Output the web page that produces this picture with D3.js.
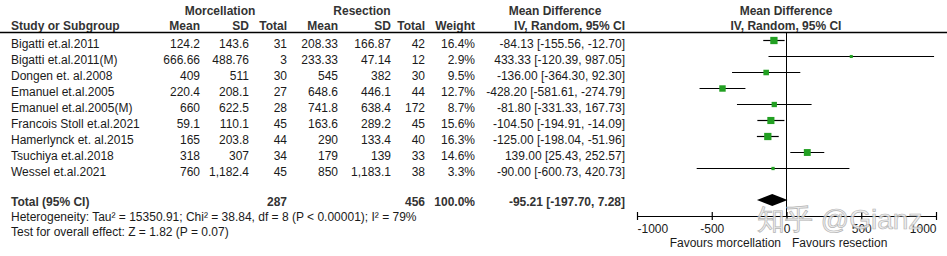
<!DOCTYPE html>
<html>
<head>
<meta charset="utf-8">
<script src="https://cdn.jsdelivr.net/npm/d3@7/dist/d3.min.js"></script>
<style>
  body { margin: 0; background: #fff; }
  text { font-family: Arial, "Liberation Sans", sans-serif; }
</style>
</head>
<body>
<svg id="chart"></svg>
<script>
const studies = ['Bigatti et.al.2011', 'Bigatti et.al.2011(M)', 'Dongen et. al.2008', 'Emanuel et.al.2005',
  'Emanuel et.al.2005(M)', 'Francois Stoll et.al.2021', 'Hamerlynck et. al.2015', 'Tsuchiya et.al.2018', 'Wessel et.al.2021'];
const morc_mean = [124.2, 666.66, 409, 220.4, 660, 59.1, 165, 318, 760];
const morc_sd = [143.6, 488.76, 511, 208.1, 622.5, 110.1, 203.8, 307, 1182.4];
const morc_n = [31, 3, 30, 27, 28, 45, 44, 34, 45];
const res_mean = [208.33, 233.33, 545, 648.6, 741.8, 163.6, 290, 179, 850];
const res_sd = [166.87, 47.14, 382, 446.1, 638.4, 289.2, 133.4, 139, 1183.1];
const res_n = [42, 12, 30, 44, 172, 45, 40, 33, 38];
const weights = [16.4, 2.9, 9.5, 12.7, 8.7, 15.6, 16.3, 14.6, 3.3];
const md = [-84.13, 433.33, -136.00, -428.20, -81.80, -104.50, -125.00, 139.00, -90.00];
const ci_low = [-155.56, -120.39, -364.30, -581.61, -331.33, -194.91, -198.04, 25.43, -600.73];
const ci_high = [-12.70, 987.05, 92.30, -274.79, 167.73, -14.09, -51.96, 252.57, 420.73];
const total = {md: -95.21, low: -197.70, high: 7.28, morc_n: 287, res_n: 456, weight: '100.0%'};
const axis_ticks = [-1000, -500, 0, 500, 1000];

let width = 947, height = 256;
let svg = d3.select('#chart').attr('width', width).attr('height', height);

let fmt = d3.format(',');
let row_y = function (i) { return 47.5 + i * 16; };
let text_col = '#1a1a1a';
let head_col = '#333';

var x = d3.scaleLinear().domain([-1000, 1000]).range([637, 936]);

// column right edges
let c_mm = 200, c_ms = 249, c_mn = 287, c_rm = 338, c_rs = 391, c_rn = 425, c_w = 475, c_ci = 625;

function header(txt, xpos, y, anchor) {
    svg.append('text').attr('x', xpos).attr('y', y).attr('text-anchor', anchor)
        .attr('font-size', 12).attr('font-weight', 'bold').attr('fill', head_col).text(txt);
}
header('Morcellation', 220, 14.5, 'middle');
header('Resection', 362, 14.5, 'middle');
header('Mean Difference', 555, 14.5, 'middle');
header('Mean Difference', 786, 14.5, 'middle');
header('Study or Subgroup', 11, 29.5, 'start');
header('Mean', c_mm, 29.5, 'end');
header('SD', c_ms, 29.5, 'end');
header('Total', c_mn, 29.5, 'end');
header('Mean', c_rm, 29.5, 'end');
header('SD', c_rs, 29.5, 'end');
header('Total', c_rn, 29.5, 'end');
header('Weight', c_w, 29.5, 'end');
header('IV, Random, 95% CI', c_ci, 29.5, 'end');
header('IV, Random, 95% CI', 786, 29.5, 'middle');

svg.append('line').attr('x1', 0).attr('x2', width).attr('y1', 32.5).attr('y2', 32.5)
    .attr('stroke', '#000').attr('stroke-width', 1.5);

// study rows
let cols = [
    {vals: studies, x: 11, anchor: 'start'},
    {vals: morc_mean.map(fmt), x: c_mm, anchor: 'end'},
    {vals: morc_sd.map(fmt), x: c_ms, anchor: 'end'},
    {vals: morc_n.map(String), x: c_mn, anchor: 'end'},
    {vals: res_mean.map(fmt), x: c_rm, anchor: 'end'},
    {vals: res_sd.map(fmt), x: c_rs, anchor: 'end'},
    {vals: res_n.map(String), x: c_rn, anchor: 'end'},
    {vals: weights.map(function (w) { return w.toFixed(1) + '%'; }), x: c_w, anchor: 'end'},
    {vals: md.map(function (m, i) {
        return m.toFixed(2) + ' [' + ci_low[i].toFixed(2) + ', ' + ci_high[i].toFixed(2) + ']';
    }), x: c_ci, anchor: 'end'}
];
cols.forEach(function (c) {
    svg.append('g').selectAll('text').data(c.vals).enter().append('text')
        .attr('x', c.x).attr('y', function (d, i) { return row_y(i); })
        .attr('text-anchor', c.anchor).attr('font-size', 12).attr('fill', text_col)
        .text(function (d) { return d; });
});

// total row
let ty = 206;
header('Total (95% CI)', 11, ty, 'start');
header(total.morc_n, c_mn, ty, 'end');
header(total.res_n, c_rn, ty, 'end');
header(total.weight, c_w, ty, 'end');
header(total.md.toFixed(2) + ' [' + total.low.toFixed(2) + ', ' + total.high.toFixed(2) + ']', c_ci, ty, 'end');

svg.append('text').attr('x', 11).attr('y', 221).attr('font-size', 12).attr('fill', text_col)
    .text('Heterogeneity: Tau\u00b2 = 15350.91; Chi\u00b2 = 38.84, df = 8 (P < 0.00001); I\u00b2 = 79%');
svg.append('text').attr('x', 11).attr('y', 236).attr('font-size', 12).attr('fill', text_col)
    .text('Test for overall effect: Z = 1.82 (P = 0.07)');

// forest plot
let axis_y = 216;
svg.append('line').attr('x1', x(0)).attr('x2', x(0)).attr('y1', 32.5).attr('y2', axis_y)
    .attr('stroke', '#000').attr('stroke-width', 1);

let plot = svg.append('g');
plot.selectAll('line.ci').data(md).enter().append('line')
    .attr('x1', function (d, i) { return x(ci_low[i]); })
    .attr('x2', function (d, i) { return x(ci_high[i]); })
    .attr('y1', function (d, i) { return row_y(i) - 7; })
    .attr('y2', function (d, i) { return row_y(i) - 7; })
    .attr('stroke', '#000').attr('stroke-width', 1.2);
let sq = function (i) { return 1.8 * Math.sqrt(weights[i]); };
plot.selectAll('rect').data(md).enter().append('rect')
    .attr('width', function (d, i) { return sq(i); })
    .attr('height', function (d, i) { return sq(i); })
    .attr('x', function (d, i) { return x(d) - sq(i) / 2; })
    .attr('y', function (d, i) { return row_y(i) - 7 - sq(i) / 2; })
    .attr('fill', '#22a022');

let dy = 200;
svg.append('path')
    .attr('d', 'M' + x(total.low) + ',' + dy + 'L' + x(total.md) + ',' + (dy - 6) +
        'L' + x(total.high) + ',' + dy + 'L' + x(total.md) + ',' + (dy + 6) + 'Z')
    .attr('fill', '#000');

let ax = svg.append('g').attr('transform', 'translate(0,' + axis_y + ')')
    .call(d3.axisBottom(x).tickValues(axis_ticks).tickSizeOuter(0).tickPadding(9)
        .tickFormat(function (d) { return String(d); }));
ax.select('.domain').attr('stroke-width', 1.2);
ax.selectAll('.tick line').attr('y1', -4).attr('y2', 4).attr('stroke-width', 1.2);
ax.selectAll('.tick text').attr('font-size', 12).attr('font-family', 'Arial, "Liberation Sans", sans-serif')
    .attr('fill', text_col).attr('y', 8).attr('dy', '0.71em')
    .attr('text-anchor', function (d, i) {
        if (i === 0) return 'start';
        if (i === axis_ticks.length - 1) return 'end';
        return 'middle';
    });

svg.append('text').attr('x', 781).attr('y', 247).attr('text-anchor', 'end')
    .attr('font-size', 12).attr('fill', text_col).text('Favours morcellation');
svg.append('text').attr('x', 792).attr('y', 247).attr('text-anchor', 'start')
    .attr('font-size', 12).attr('fill', text_col).text('Favours resection');

// watermark
svg.append('text').attr('x', 757).attr('y', 229)
    .attr('font-family', '"Noto Sans CJK SC", sans-serif').attr('font-size', 28)
    .attr('fill', '#ececec').attr('stroke', '#a8a8a8').attr('stroke-width', 0.7).attr('opacity', 0.85)
    .text('知乎 @Gianz');
</script>
</body>
</html>
